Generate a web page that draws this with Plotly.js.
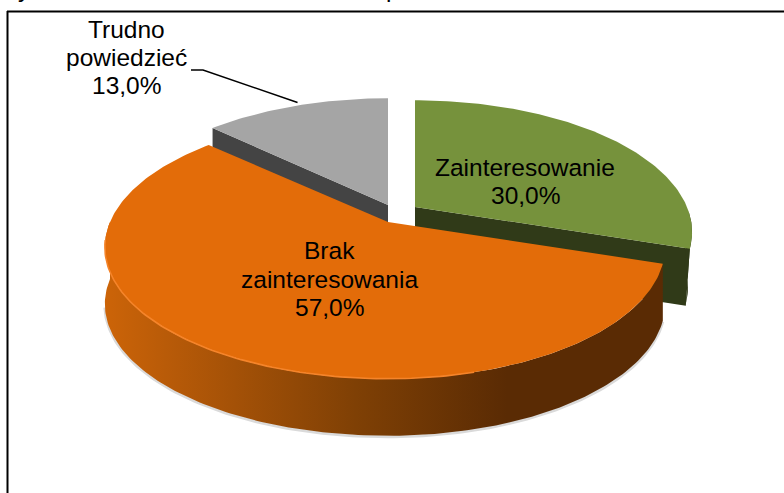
<!DOCTYPE html>
<html><head><meta charset="utf-8">
<script src="https://cdn.plot.ly/plotly-3.0.1.min.js"></script>
<style>html,body{margin:0;padding:0;background:#fff;overflow:hidden}#c{width:784px;height:493px}</style>
</head><body><div id="c"></div>
<script>
const categories = ["Zainteresowanie", "Brak zainteresowania", "Trudno powiedzieć"];
const shares = [30.0, 57.0, 13.0];
const decimalLabels = ["30,0%", "57,0%", "13,0%"];
const faceColors = ["#76923C", "#E36C09", "#A5A5A5"];
const wallColors = ["#303A18", "#5A2B04", "#444444"];

// Projection of a tilted disc: everything below derives a slice outline from the shares.
const B = 127, K = 0.19, DEPTH = 57;
const centres = [[415, 207], [388, 222], [388, 205]];
const leftRadius = [272, 278, 272], rightRadius = [272, 272, 272];
let current = 0;
function proj(c, deg, r, dz) {
  const t = deg * Math.PI / 180, u = r * Math.sin(t), v = r * Math.cos(t), w = 1 + K * v;
  const a = u < 0 ? leftRadius[current] : rightRadius[current];
  return [c[0] + a * u / w, c[1] - B * v / w + (dz || 0)];
}
function arc(c, a0, a1, dz) {
  const p = [], n = Math.max(2, Math.ceil(Math.abs(a1 - a0)));
  for (let i = 0; i <= n; i++) p.push(proj(c, a0 + (a1 - a0) * i / n, 1, dz));
  return p;
}
const traces = [];
function poly(pts, color, name, grad) {
  const t = {type: 'scatter', mode: 'lines', x: pts.map(p => p[0]), y: pts.map(p => p[1]),
    fill: 'toself', line: {width: 0, color: color}, fillcolor: color, hoverinfo: 'text', text: name, showlegend: false};
  if (grad) { delete t.fillcolor; t.fillgradient = grad; }
  traces.push(t);
}
function stroke(pts, color, width) {
  traces.push({type:'scatter', mode:'lines', x: pts.map(p=>p[0]), y: pts.map(p=>p[1]),
    line:{color, width}, hoverinfo:'skip', showlegend:false});
}
// slice angular ranges from the shares
let acc = 0;
const ranges = shares.map(s => { const r = [acc, acc + s * 3.6]; acc += s * 3.6; return r; });

function drawSlice(i) {
  current = i;
  const [a0, a1] = ranges[i], c = centres[i], name = categories[i];
  const tip = proj(c, 0, 0), tipD = proj(c, 0, 0, DEPTH);
  if (i === 0) {
    const e = proj(c, a1, 1), eD = proj(c, a1, 1, DEPTH);
    eD[0] -= 4;
    poly([tip, e, eD, tipD], wallColors[i], name);
    const lower = arc(c, a1, 92, DEPTH).map(p => [p[0] - 4, p[1] - 2]);
    poly(arc(c, 92, a1, 0).concat(lower), wallColors[i], name);
  }
  if (i === 2) {
    const e = proj(c, a0, 1), eD = proj(c, a0, 1, DEPTH);
    poly([tip, e, eD, tipD], wallColors[i], name);
  }
  if (i === 1) {
    const from = Math.max(a0, 90), to = Math.min(a1, 270);
    stroke(arc(c, from, to - 12, DEPTH + 1), '#DADADA', 3);   // soft edge under the wall
    const rim = arc(c, from, to, 0).concat(arc(c, to, from, DEPTH));
    poly(rim, wallColors[i], name, {type: 'horizontal', colorscale: [
      [0, '#CC6408'], [0.12, '#B75A08'], [0.45, '#7F4005'], [0.72, '#5A2B04'], [1, '#5A2B04']]});
  }
  const face = [tip].concat(arc(c, a0, a1, 0)).concat([tip]);
  poly(face, faceColors[i], name + ' ' + decimalLabels[i]);
  if (i === 1) stroke(arc(c, 165, 262, 0), '#F5842A', 1.6); // lit front rim
}
[2, 0, 1].forEach(drawSlice);

// leader from the grey slice to its label
current = 2;
const leaderEnd = proj(centres[2], 337, 1);
stroke([[191, 70], [203, 70], [leaderEnd[0], leaderEnd[1] - 3]], '#000', 1.5);

const font = {family: 'Liberation Sans, Arial, sans-serif', size: 24.5, color: '#000'};
const note = (x, y, t) => ({x, y, text: t, showarrow: false, xanchor: 'center', yanchor: 'middle', align: 'center', font});
const layout = {
  width: 784, height: 493, margin: {l: 0, r: 0, t: 0, b: 0},
  paper_bgcolor: '#fff', plot_bgcolor: '#fff', showlegend: false,
  xaxis: {range: [0, 784], visible: false, fixedrange: true},
  yaxis: {range: [493, 0], visible: false, fixedrange: true},
  shapes: [
    {type: 'line', x0: 7, x1: 784, y0: 11.5, y1: 11.5, line: {color: '#000', width: 2}, layer: 'below'},
    {type: 'line', x0: 7.5, x1: 7.5, y0: 11, y1: 493, line: {color: '#000', width: 2}, layer: 'below'}
  ],
  annotations: [
    note(525, 167, categories[0]), note(525, 195, decimalLabels[0]),
    note(329, 250, 'Brak'), note(329, 279, 'zainteresowania'), note(329, 307, decimalLabels[1]),
    note(126, 29, 'Trudno'), note(126, 57, 'powiedzieć'), note(126, 85, decimalLabels[2]),
    // descenders of the title cropped by the top edge
    {x: 24, y: 4, text: 'y', showarrow: false, xanchor: 'center', yanchor: 'bottom', font},
    {x: 393, y: 4, text: 'p', showarrow: false, xanchor: 'center', yanchor: 'bottom', font}
  ]
};
Plotly.newPlot('c', traces, layout, {displayModeBar: false, staticPlot: true});
</script></body></html>
